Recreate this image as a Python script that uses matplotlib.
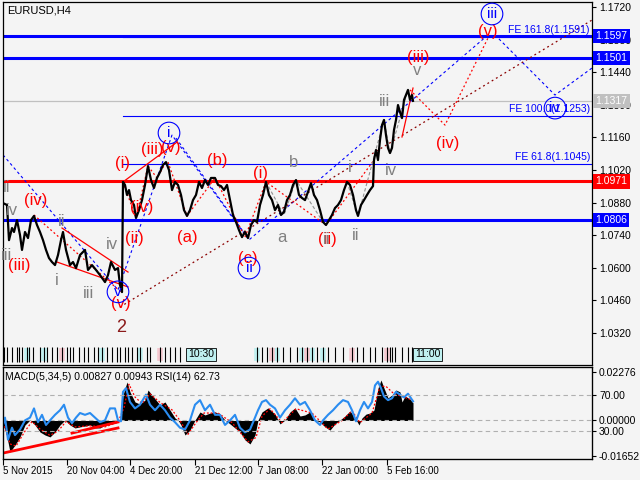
import matplotlib
matplotlib.use("Agg")
import matplotlib.pyplot as plt

plt.rcParams["font.family"] = ["Liberation Sans", "DejaVu Sans"]

BG = "#f4f4f4"
W, H = 640, 480

# ---- price path (bar number, close) ----
bars = [0, 4, 6, 9, 11, 14, 17, 19, 22, 25, 28, 31, 34, 37, 40, 43, 46, 49, 52, 55,
        58, 60, 63, 67, 70, 73, 77, 82, 85, 89, 93, 97, 102, 105, 108, 112, 115, 117, 119, 120,
        122, 124, 126, 128, 131, 133, 136, 139, 142, 145, 148, 151, 154, 157, 160, 163, 166, 169, 172, 175,
        178, 181, 184, 187, 190, 193, 196, 199, 202, 205, 208, 212, 215, 218, 221, 224, 227, 230, 233, 236,
        239, 242, 245, 248, 251, 254, 257, 260, 263, 266, 269, 272, 275, 278, 281, 284, 287, 290, 293, 296,
        299, 302, 305, 308, 311, 314, 317, 320, 323, 326, 329, 332, 335, 338, 341, 344, 347, 350, 353, 355,
        358, 361, 364, 367, 370, 371, 373, 375, 377, 379, 381, 383, 385, 387, 389, 391, 393, 395, 397, 399,
        401, 403, 405, 407, 409, 410]
close = [1.0878, 1.0870, 1.0719, 1.0771, 1.0754, 1.0805, 1.0741, 1.0677, 1.0754, 1.0728, 1.0805, 1.0823, 1.0784, 1.0754, 1.0719, 1.0677, 1.0642, 1.0625, 1.0612, 1.0655,
         1.0719, 1.0754, 1.0677, 1.0612, 1.0625, 1.0599, 1.0655, 1.0677, 1.0591, 1.0612, 1.0591, 1.0569, 1.0539, 1.0569, 1.0625, 1.0591, 1.0599, 1.0526, 1.0496, 1.0969,
         1.0956, 1.0913, 1.0934, 1.0891, 1.0870, 1.0814, 1.0848, 1.0891, 1.0956, 1.1037, 1.0977, 1.0943, 1.0986, 1.1011, 1.1042, 1.1054, 1.1020, 1.0934, 1.0969, 1.0956,
         1.0913, 1.0848, 1.0823, 1.0848, 1.0891, 1.0913, 1.0969, 1.0943, 1.0977, 1.0956, 1.0986, 1.0986, 1.0956, 1.0951, 1.0934, 1.0956, 1.0891, 1.0827, 1.0797, 1.0762,
         1.0732, 1.0754, 1.0728, 1.0784, 1.0805, 1.0797, 1.0870, 1.0913, 1.0969, 1.0913, 1.0891, 1.0848, 1.0870, 1.0827, 1.0840, 1.0891, 1.0913, 1.0956, 1.0977, 1.0913,
         1.0900, 1.0891, 1.0926, 1.0964, 1.0913, 1.0891, 1.0848, 1.0797, 1.0784, 1.0805, 1.0827, 1.0857, 1.0870, 1.0891, 1.0934, 1.0969, 1.0956, 1.0913, 1.0848, 1.0823,
         1.0870, 1.0891, 1.0913, 1.0934, 1.0951, 1.1063, 1.1106, 1.1063, 1.1149, 1.1213, 1.1235, 1.1170, 1.1115, 1.1093, 1.1115, 1.1192, 1.1235, 1.1299, 1.1269, 1.1243,
         1.1321, 1.1342, 1.1364, 1.1321, 1.1342, 1.1317]

# horizontal levels: (price, colour, width, start bar)
levels = [(1.1597, "blue", 2.2, 0), (1.1591, "blue", 0.8, 120), (1.1501, "blue", 2.2, 0),
          (1.1317, "#c0c0c0", 0.9, 0), (1.1253, "blue", 0.8, 120), (1.1045, "blue", 0.8, 120),
          (1.0971, "red", 2.2, 0), (1.0806, "blue", 2.2, 0)]
price_boxes = [(1.1597, "blue"), (1.1501, "blue"), (1.1317, "#c0c0c0"), (1.0971, "red"), (1.0806, "blue")]
fe_labels = [(1.1591, "FE 161.8(1.1591)"), (1.1253, "FE 100.0(1.1253)"), (1.1045, "FE 61.8(1.1045)")]

red_labels = [(120, 1.1046, "(i)"), (149, 1.1110, "(iii)"), (168, 1.1115, "(v)"), (214, 1.1063, "(b)"),
              (257, 1.1007, "(i)"), (139, 1.0861, "(iv)"), (131, 1.0724, "(ii)"), (184, 1.0732, "(a)"),
              (245, 1.0642, "(c)"), (324, 1.0720, "(ii)"), (33, 1.0891, "(iv)"), (16, 1.0612, "(iii)"),
              (118, 1.0449, "(v)"), (415, 1.1505, "(iii)"), (485, 1.1613, "(v)"), (445, 1.1132, "(iv)")]
gray_labels = [(4, 1.0947, "ii"), (9, 1.0848, "iv"), (4, 1.0655, "iii"), (54, 1.0544, "i"), (59, 1.0797, "ii"),
               (85, 1.0492, "iii"), (109, 1.0702, "iv"), (279, 1.0732, "a"), (291, 1.1054, "b"),
               (347, 1.1033, "i"), (353, 1.0737, "ii"), (324, 1.0720, "ii"), (381, 1.1316, "iii"),
               (388, 1.1016, "iv"), (414, 1.1449, "v")]
circle_labels = [(166, 1.1179, "i"), (246, 1.0599, "ii"), (489, 1.1690, "iii"), (552, 1.1286, "iv"),
                 (115, 1.0497, "v")]

blue_paths = [[(0, 1.1085), (115, 1.0505), (169, 1.1170), (246, 1.0720), (485, 1.1600)],
              [(173, 1.1157), (242, 1.0745)],
              [(492, 1.1600), (552, 1.1342), (589, 1.1458)]]
red_dot_paths = [[(31, 1.0827), (118, 1.0496)],
                 [(120, 1.0969), (133, 1.0814), (145, 1.1037), (154, 1.0986), (163, 1.1054)],
                 [(165, 1.1054), (184, 1.0823), (212, 1.0986), (242, 1.0732)],
                 [(242, 1.0732), (263, 1.0969), (323, 1.0784), (371, 1.1063)],
                 [(407, 1.1364), (442, 1.1213), (485, 1.1587)]]
gray_paths = [[(344, 1.0969), (355, 1.0823), (381, 1.1235), (387, 1.1093), (405, 1.1364)],
              [(263, 1.0969), (281, 1.0827), (293, 1.0977), (320, 1.0797)]]
brown_path = [(117, 1.0432), (589, 1.1664)]
red_solid = [[(59, 1.0771), (125, 1.0582)], [(54, 1.0625), (125, 1.0518)],
             [(120, 1.0969), (174, 1.1140)], [(399, 1.1162), (410, 1.1372)]]

# event markers along the bottom of the price window
events = [1, 4, 9, 14, 16, 19, 24, 26, 30, 37, 41, 44, 49, 54, 59, 64, 67, 70, 76, 81, 85, 91, 95, 99,
          104, 109, 114, 117, 122, 125, 129, 134, 137, 144, 147, 157, 162, 167, 172, 177,
          254, 259, 264, 269, 274, 280, 287, 294, 299, 304, 309, 314, 320, 325, 332, 340, 349,
          354, 360, 367, 372, 379, 384, 387, 389, 392, 399, 405, 409]
cyan_events = [24, 41, 99, 137, 254, 274, 299, 309, 320]
pink_events = [59, 157, 269, 304, 349, 384]
event_boxes = [(185, "10:30"), (412, "11:00")]

# ---- indicator window ----
ind_bars = [0, 3, 7, 12, 17, 22, 27, 32, 37, 42, 47, 52, 57, 62, 67, 72, 77, 82, 87, 92, 97, 102, 107, 112,
            117, 120, 124, 127, 132, 137, 142, 145, 149, 153, 157, 162, 167, 172, 175, 178, 182, 187, 192,
            197, 202, 207, 212, 217, 222, 227, 232, 237, 242, 247, 252, 255, 259, 265, 272, 277, 282, 287,
            292, 297, 302, 307, 312, 317, 322, 327, 332, 337, 342, 347, 352, 356, 359, 363, 367, 371, 375,
            378, 381, 385, 389, 393, 397, 399, 402, 407, 410]
macd = [-0.0021, -0.0054, -0.0148, -0.0115, -0.0077, -0.0021, 0.0002, -0.0021, -0.0054, -0.0068, -0.0077,
        -0.0054, -0.0021, 0.0002, -0.0021, -0.0035, -0.0030, -0.0026, -0.0021, -0.0035, -0.0035, -0.0021,
        -0.0016, -0.0002, 0.0002, 0.0120, 0.0181, 0.0134, 0.0087, 0.0077, 0.0096, 0.0143, 0.0120, 0.0096,
        0.0073, 0.0087, 0.0049, 0.0012, 0.0002, -0.0021, -0.0068, -0.0045, 0.0002, 0.0040, 0.0026, 0.0035,
        0.0040, 0.0030, 0.0002, -0.0016, -0.0035, -0.0054, -0.0091, -0.0110, -0.0068, 0.0002, 0.0040,
        0.0059, 0.0030, -0.0016, 0.0002, 0.0040, 0.0059, 0.0021, 0.0026, 0.0040, 0.0002, -0.0007, -0.0030,
        -0.0045, -0.0016, 0.0002, 0.0021, 0.0045, 0.0012, -0.0021, 0.0012, 0.0030, 0.0035, 0.0049, 0.0152,
        0.0190, 0.0152, 0.0106, 0.0120, 0.0143, 0.0134, 0.0087, 0.0115, 0.0100, 0.0083]
sig_bars = [0, 7, 13, 22, 29, 37, 47, 55, 63, 72, 87, 102, 115, 121, 126, 132, 139, 147, 157, 169, 177,
            185, 193, 201, 215, 229, 245, 253, 259, 267, 279, 293, 309, 325, 339, 349, 357, 369, 377, 383,
            391, 401, 410]
signal = [-0.0010, -0.0110, -0.0120, -0.0050, -0.0005, -0.0040, -0.0070, -0.0050, -0.0005, -0.0030,
          -0.0025, -0.0030, -0.0008, 0.0060, 0.0170, 0.0110, 0.0080, 0.0125, 0.0085, 0.0050, 0.0000,
          -0.0065, -0.0010, 0.0035, 0.0035, -0.0010, -0.0100, -0.0080, 0.0020, 0.0055, -0.0010, 0.0055,
          0.0035, -0.0040, 0.0000, 0.0045, -0.0010, 0.0035, 0.0160, 0.0160, 0.0125, 0.0110, 0.0094]
rsi_bars = [0, 2, 5, 9, 12, 17, 22, 27, 31, 35, 39, 43, 47, 52, 57, 61, 65, 69, 73, 77, 82, 87, 92, 97,
            102, 107, 112, 115, 118, 120, 123, 127, 132, 137, 143, 147, 152, 157, 162, 167, 172, 177, 182,
            187, 192, 197, 202, 207, 212, 217, 222, 227, 232, 237, 242, 247, 252, 255, 259, 263, 267, 272,
            277, 282, 287, 292, 297, 302, 307, 312, 317, 320, 325, 330, 335, 340, 345, 349, 353, 357, 361,
            365, 369, 372, 375, 378, 381, 385, 389, 393, 397, 401, 405, 410]
rsi = [37, 45, 21, 34, 26, 32, 42, 45, 55, 40, 48, 37, 42, 48, 53, 59, 45, 39, 45, 50, 48, 50, 45, 40,
       42, 55, 55, 42, 41, 73, 77, 62, 55, 59, 70, 59, 53, 59, 53, 45, 40, 34, 32, 42, 59, 64, 53, 59,
       48, 48, 37, 42, 48, 34, 29, 32, 45, 53, 62, 64, 59, 55, 45, 53, 59, 66, 59, 62, 53, 42, 37, 42,
       48, 53, 59, 64, 62, 53, 41, 53, 62, 55, 62, 80, 84, 77, 68, 64, 66, 73, 70, 67, 71, 62.73]
macd_trend = [[(0, -0.0153), (115, -0.0035)], [(69, -0.0059), (115, -0.0007)]]

date_ticks = [0, 64, 127, 192, 255, 319, 384]
date_labels = ["5 Nov 2015", "20 Nov 04:00", "4 Dec 20:00", "21 Dec 12:00",
               "7 Jan 08:00", "22 Jan 00:00", "5 Feb 16:00"]
price_ticks = [1.0320, 1.0460, 1.0600, 1.0740, 1.0880, 1.1020, 1.1160, 1.1300, 1.1440, 1.1580, 1.1720]

FS = 7.5


def px_axes(x0, y0, x1, y1):
    return fig.add_axes([x0 / W, 1 - y1 / H, (x1 - x0) / W, (y1 - y0) / H])


fig = plt.figure(figsize=(6.4, 4.8), dpi=100, facecolor=BG)
ax = px_axes(3, 2, 592, 365)
ax.set_facecolor(BG)
ax.set_xlim(0, 589)
ax.set_ylim(1.01829, 1.17415)
ax.set_xticks([])
ax.yaxis.tick_right()
ax.set_yticks(price_ticks)
ax.set_yticklabels([f"{p:.4f}" for p in price_ticks])
ax.tick_params(axis="y", labelsize=FS, length=3, pad=2, width=0.8)
for s in ax.spines.values():
    s.set_linewidth(0.9)

for p, c, lw, start in levels:
    ax.plot([start, 589], [p, p], color=c, lw=lw, zorder=2)
for p, txt in fe_labels:
    ax.text(587, p + 0.0008, txt, color="blue", fontsize=FS, ha="right", va="bottom")

# projection / wave lines
for path in blue_paths:
    xs, ys = zip(*path)
    ax.plot(xs, ys, color="blue", lw=0.8, ls=(0, (2.5, 2.5)))
for path in red_dot_paths:
    xs, ys = zip(*path)
    ax.plot(xs, ys, color="red", lw=0.9, ls=(0, (1.5, 2)))
for path in gray_paths:
    xs, ys = zip(*path)
    ax.plot(xs, ys, color="#909090", lw=0.8, ls=(0, (3, 2)))
xs, ys = zip(*brown_path)
ax.plot(xs, ys, color="#8b0000", lw=0.9, ls=(0, (1.5, 2.5)))
for path in red_solid:
    xs, ys = zip(*path)
    ax.plot(xs, ys, color="red", lw=0.9)

ax.plot(bars, close, color="black", lw=1.6, zorder=4)

for x, y, t in red_labels:
    ax.text(x, y, t, color="red", fontsize=12, ha="center", va="center", zorder=5)
for x, y, t in gray_labels:
    ax.text(x, y, t, color="#808080", fontsize=12, ha="center", va="center", zorder=5)
for x, y, t in circle_labels:
    ax.text(x, y, t, color="blue", fontsize=11, ha="center", va="center", zorder=5,
            bbox=dict(boxstyle="circle,pad=0.25", fc="none", ec="blue", lw=0.8))
ax.text(118, 1.0346, "2", color="#8b1a1a", fontsize=13, ha="center", va="center")
ax.text(0.007, 0.99, "EURUSD,H4", transform=ax.transAxes, fontsize=8, va="top", ha="left")

ytr = ax.get_yaxis_transform()
for p, c in price_boxes:
    ax.text(1.006, p, f"{p:.4f}", transform=ytr, color="white", fontsize=FS, ha="left", va="center",
            zorder=6, clip_on=False,
            bbox=dict(boxstyle="square,pad=0.2", fc=c, ec="none"))

xtr = ax.get_xaxis_transform()
ax.vlines(cyan_events, 0.01, 0.048, transform=xtr, color="#bff0f0", lw=4)
ax.vlines(pink_events, 0.01, 0.048, transform=xtr, color="#f5c8d0", lw=4)
ax.vlines(events, 0.008, 0.05, transform=xtr, color="black", lw=0.8)
for x, t in event_boxes:
    ax.text(x, 0.029, t, transform=xtr, fontsize=FS, ha="left", va="center",
            bbox=dict(boxstyle="square,pad=0.15", fc="#bff0f0", ec="black", lw=0.6))

# ---- MACD / RSI window ----
ax2 = px_axes(3, 367, 592, 459)
ax2.set_facecolor(BG)
ax2.set_xlim(0, 589)
ax2.set_ylim(-0.01807, 0.0251)
ax2.fill_between(ind_bars, 0, macd, color="black", lw=0)
ax2.plot(sig_bars, signal, color="red", lw=0.9, ls=(0, (1.5, 1.5)))
ax2.axhline(0, color="#b0b0b0", lw=0.8, ls=(0, (4, 3)))
for path in macd_trend:
    xs, ys = zip(*path)
    ax2.plot(xs, ys, color="red", lw=2)
ax2.set_xticks(date_ticks)
ax2.set_xticklabels(date_labels, ha="left")
ax2.tick_params(axis="x", labelsize=7, length=4, pad=1, width=0.8)
for s in ax2.spines.values():
    s.set_linewidth(0.9)

ax3 = ax2.twinx()
ax3.set_ylim(0, 100)
ax3.plot(rsi_bars, rsi, color="#2a8cf0", lw=1.5)
ax3.axhline(70, color="#b0b0b0", lw=0.8, ls=(0, (4, 3)))
ax3.axhline(30, color="#b0b0b0", lw=0.8, ls=(0, (4, 3)))
ax3.set_yticks([70, 30])
ax3.set_yticklabels(["70.00", "30.00"])
ax3.tick_params(axis="y", labelsize=FS, length=3, pad=2, width=0.8)
ax3.text(0.004, 0.95, "MACD(5,34,5) 0.00827 0.00943 RSI(14) 62.73", transform=ax3.transAxes,
         fontsize=FS, va="top", ha="left")

# twinx moves the MACD scale to the left, put it back on the right
ax2.yaxis.tick_right()
ax2.set_yticks([0.02276, 0.0, -0.01652])
ax2.set_yticklabels(["0.02276", "0.00000", "-0.01652"])
ax2.tick_params(axis="y", labelsize=FS, length=3, pad=2, width=0.8)

fig.savefig("out.png", dpi=100, facecolor=BG)
